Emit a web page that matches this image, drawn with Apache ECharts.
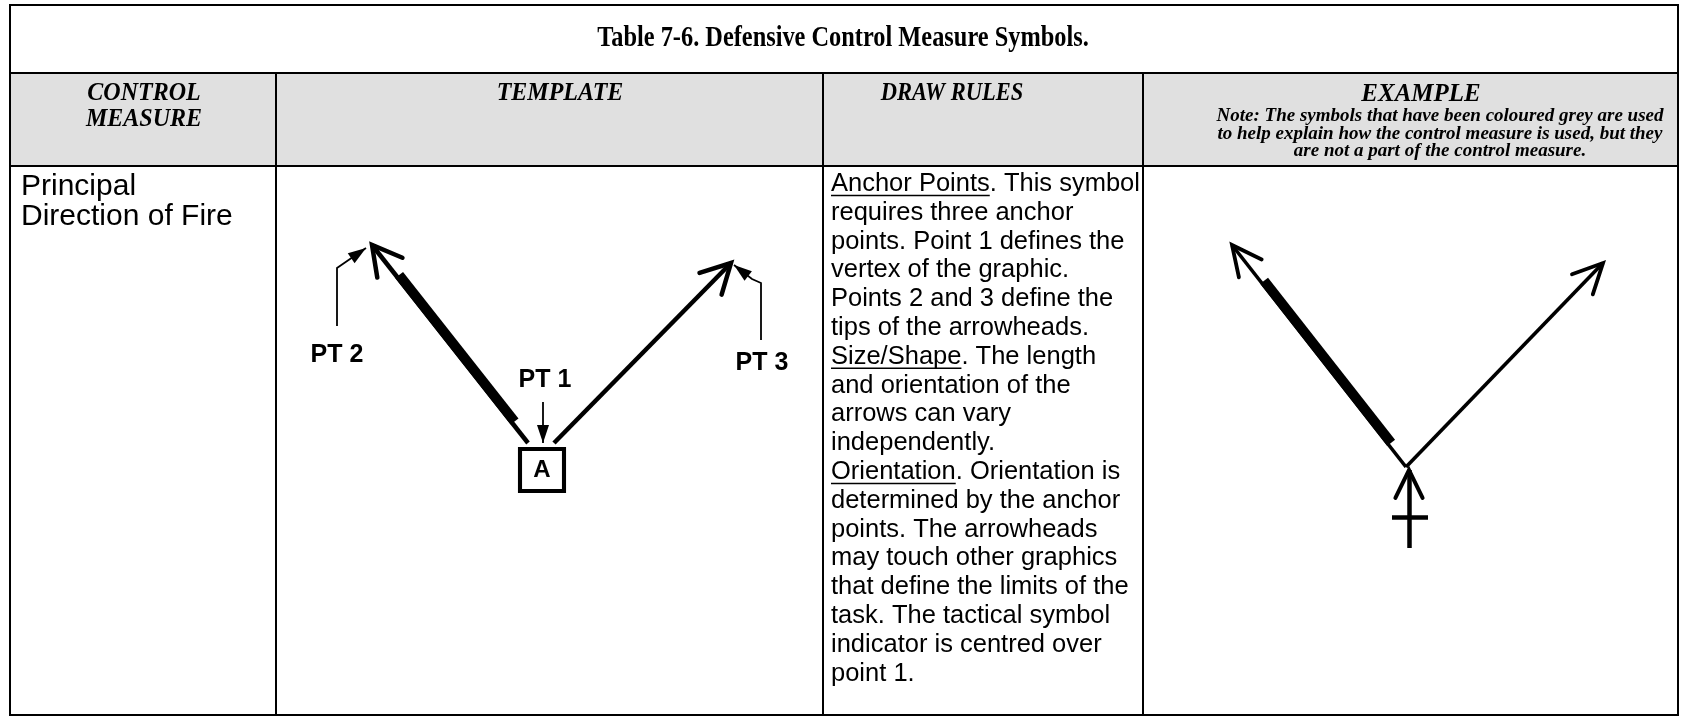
<!DOCTYPE html>
<html><head><meta charset="utf-8">
<script src="https://cdn.jsdelivr.net/npm/echarts@6/dist/echarts.min.js"></script>
<style>html,body{margin:0;padding:0;background:#fff}#c{width:1681px;height:717px}</style>
</head><body><div id="c"></div>
<script>
// ---------- text content ----------
const TITLE = 'Table 7-6. Defensive Control Measure Symbols.';
const HEADERS = ['CONTROL', 'MEASURE', 'TEMPLATE', 'DRAW RULES', 'EXAMPLE'];
const EXAMPLE_NOTE = [
  'Note: The symbols that have been coloured grey are used',
  'to help explain how the control measure is used, but they',
  'are not a part of the control measure.'
];
const MEASURE_NAME = ['Principal', 'Direction of Fire'];
const DRAW_RULES = [
  'Anchor Points. This symbol',
  'requires three anchor',
  'points. Point 1 defines the',
  'vertex of the graphic.',
  'Points 2 and 3 define the',
  'tips of the arrowheads.',
  'Size/Shape. The length',
  'and orientation of the',
  'arrows can vary',
  'independently.',
  'Orientation. Orientation is',
  'determined by the anchor',
  'points. The arrowheads',
  'may touch other graphics',
  'that define the limits of the',
  'task. The tactical symbol',
  'indicator is centred over',
  'point 1.'
];
const UNDERLINED = [[0, 'Anchor Points'], [6, 'Size/Shape'], [10, 'Orientation']];

// ---------- template symbol ----------
const TPL_LEFT = [[528, 443], [372, 245]];   // point 1 side -> PT 2 tip
const TPL_RIGHT = [[554, 443], [731, 263]];  // point 1 side -> PT 3 tip
const TPL_BAND = [0.10, 0.84];               // part of left arrow drawn thick
const TPL_BOX = [[542, 470, 'A']];
const TPL_LABELS = [[337, 355, 'PT 2'], [545, 380, 'PT 1'], [762, 363, 'PT 3']];
const TPL_POINTERS = [
  [[337, 326], [337, 268], [366, 248]],
  [[543, 402], [543, 443]],
  [[761, 340], [761, 283], [752, 279], [734, 265]]
];

// ---------- example symbol ----------
const EX_LEFT = [[1406, 467], [1232, 245]];
const EX_RIGHT = [[1406, 467], [1603, 263]];
const EX_BAND = [0.10, 0.83];
const EX_INDICATOR = [[1409, 548], [1409, 470]];
const EX_CROSSBAR = [[1392, 517], [1428, 517]];

// ---------- layout ----------
const T = {l: 10, t: 5, r: 1678, b: 715, titleB: 73, headB: 166, cols: [276, 823, 1143]};
const SERIF = '"Liberation Serif", "Times New Roman", serif';
const SANS = '"Liberation Sans", Arial, sans-serif';

function band(shaft, frac, w, thin) {
  const a = shaft[0], b = shaft[1];
  const dx = b[0] - a[0], dy = b[1] - a[1], len = Math.hypot(dx, dy);
  const n = [-dy / len, dx / len];
  const off = (w - thin) / 2;
  const p = t => [a[0] + dx * t + n[0] * off, a[1] + dy * t + n[1] * off];
  return [p(frac[0]), p(frac[1])];
}

const measureCtx = document.createElement('canvas').getContext('2d');
function textW(str, font) { measureCtx.font = font; return measureCtx.measureText(str).width; }

const graphics = [];
graphics.push({type: 'rect', z: 0, shape: {x: T.l, y: T.titleB, width: T.r - T.l, height: T.headB - T.titleB}, style: {fill: '#e0e0e0'}});
const lw = 2;
graphics.push({type: 'rect', z: 5, shape: {x: T.l, y: T.t, width: T.r - T.l, height: T.b - T.t}, style: {fill: null, stroke: '#000', lineWidth: lw}});
graphics.push({type: 'line', z: 5, shape: {x1: T.l, y1: T.titleB, x2: T.r, y2: T.titleB}, style: {stroke: '#000', lineWidth: lw}});
graphics.push({type: 'line', z: 5, shape: {x1: T.l, y1: T.headB, x2: T.r, y2: T.headB}, style: {stroke: '#000', lineWidth: lw}});
T.cols.forEach(x => graphics.push({type: 'line', z: 5, shape: {x1: x, y1: T.titleB, x2: x, y2: T.b}, style: {stroke: '#000', lineWidth: lw}}));

function txt(str, x, y, font, align, sx) {
  graphics.push({type: 'text', z: 6, x: x, y: y, scaleX: sx || 1, style: {text: str, font: font, fill: '#000', align: align || 'center', verticalAlign: 'middle', textAlign: align || 'center', textVerticalAlign: 'middle'}});
}
txt(TITLE, 843, 39, 'bold 29px ' + SERIF, 'center', 0.84);
const HF = 'italic bold 25px ' + SERIF;
txt(HEADERS[0], 144, 94, HF, 'center', 0.96);
txt(HEADERS[1], 144, 120, HF, 'center', 0.96);
txt(HEADERS[2], 560, 94, HF, 'center', 0.96);
txt(HEADERS[3], 952, 94, HF, 'center', 0.9);
txt(HEADERS[4], 1421, 94, 'italic bold 26px ' + SERIF, 'center', 0.96);
EXAMPLE_NOTE.forEach((s, i) => txt(s, 1440, 116 + i * 17.7, 'italic bold 19px ' + SERIF));
MEASURE_NAME.forEach((s, i) => txt(s, 21, 187 + i * 30, '30px ' + SANS, 'left'));
const RF = '25.5px ' + SANS;
const RX = 831, RY0 = 184, RDY = 28.8;
DRAW_RULES.forEach((s, i) => txt(s, RX, RY0 + i * RDY, RF, 'left'));
UNDERLINED.forEach(([i, s]) => {
  const w = textW(s, RF), y = RY0 + i * RDY + 11.5;
  graphics.push({type: 'line', z: 6, shape: {x1: RX, y1: y, x2: RX + w, y2: y}, style: {stroke: '#000', lineWidth: 1.6}});
});

// ---------- series ----------
const lineS = (data, width, extra) => Object.assign({
  type: 'lines', coordinateSystem: 'cartesian2d', silent: true, z: 3,
  data: data.map(c => ({coords: c})),
  lineStyle: {color: '#000', width: width, opacity: 1, curveness: 0, cap: 'butt'}
}, extra || {});

const openHeads = [
  [TPL_LEFT[1][0], TPL_LEFT[1][1], TPL_LEFT[0][0], TPL_LEFT[0][1], 33, 29, 4.5],
  [TPL_RIGHT[1][0], TPL_RIGHT[1][1], TPL_RIGHT[0][0], TPL_RIGHT[0][1], 33, 28, 4.5],
  [EX_LEFT[1][0], EX_LEFT[1][1], EX_LEFT[0][0], EX_LEFT[0][1], 33, 26, 3.8],
  [EX_RIGHT[1][0], EX_RIGHT[1][1], EX_RIGHT[0][0], EX_RIGHT[0][1], 33, 26, 3.8],
  [EX_INDICATOR[1][0], EX_INDICATOR[1][1], EX_INDICATOR[0][0], EX_INDICATOR[0][1], 31, 26, 4]
];
const filledHeads = TPL_POINTERS.map(p => {
  const tip = p[p.length - 1], prev = p[p.length - 2];
  return [tip[0], tip[1], prev[0], prev[1], 18, 6];
});

const option = {
  animation: false,
  grid: {left: 0, right: 0, top: 0, bottom: 0},
  xAxis: {type: 'value', min: 0, max: 1681, show: false},
  yAxis: {type: 'value', min: 0, max: 717, inverse: true, show: false},
  graphic: {elements: graphics},
  series: [
    lineS([TPL_LEFT, TPL_RIGHT], 4.5),
    lineS([EX_LEFT, EX_RIGHT], 3.6),
    lineS([band(TPL_LEFT, TPL_BAND, 10, 4.5)], 10),
    lineS([band(EX_LEFT, EX_BAND, 10, 3.6)], 10),
    lineS(TPL_POINTERS, 1.8, {polyline: true}),
    lineS([EX_INDICATOR, EX_CROSSBAR], 4.5),
    {
      type: 'custom', coordinateSystem: 'cartesian2d', silent: true, z: 4,
      data: openHeads, encode: {x: 0, y: 1},
      renderItem: function (params, api) {
        const tip = api.coord([api.value(0), api.value(1)]);
        const back = api.coord([api.value(2), api.value(3)]);
        const L = api.value(4), a = api.value(5) * Math.PI / 180, w = api.value(6);
        const ang = Math.atan2(back[1] - tip[1], back[0] - tip[0]);
        const p1 = [tip[0] + L * Math.cos(ang + a), tip[1] + L * Math.sin(ang + a)];
        const p2 = [tip[0] + L * Math.cos(ang - a), tip[1] + L * Math.sin(ang - a)];
        return {type: 'polyline', shape: {points: [p1, tip, p2]}, style: {stroke: '#000', lineWidth: w, fill: null, lineCap: 'round', lineJoin: 'miter', miterLimit: 10}};
      }
    },
    {
      type: 'custom', coordinateSystem: 'cartesian2d', silent: true, z: 4,
      data: filledHeads, encode: {x: 0, y: 1},
      renderItem: function (params, api) {
        const tip = api.coord([api.value(0), api.value(1)]);
        const back = api.coord([api.value(2), api.value(3)]);
        const L = api.value(4), hw = api.value(5);
        const ang = Math.atan2(back[1] - tip[1], back[0] - tip[0]);
        const c = [tip[0] + L * Math.cos(ang), tip[1] + L * Math.sin(ang)];
        const n = [-Math.sin(ang), Math.cos(ang)];
        return {type: 'polygon', shape: {points: [tip, [c[0] + n[0] * hw, c[1] + n[1] * hw], [c[0] - n[0] * hw, c[1] - n[1] * hw]]}, style: {fill: '#000'}};
      }
    },
    {
      type: 'scatter', silent: true, z: 5,
      data: TPL_BOX.map(d => ({value: [d[0], d[1]], name: d[2]})),
      symbol: 'rect', symbolSize: [44, 42],
      itemStyle: {color: '#fff', borderColor: '#000', borderWidth: 4, opacity: 1},
      label: {show: true, position: 'inside', formatter: '{b}', color: '#000', fontFamily: SANS, fontWeight: 'bold', fontSize: 24}
    },
    {
      type: 'scatter', silent: true, z: 5,
      data: TPL_LABELS.map(d => ({value: [d[0], d[1]], name: d[2]})),
      symbol: 'circle', symbolSize: 1,
      itemStyle: {color: 'rgba(0,0,0,0)', opacity: 1},
      label: {show: true, position: 'inside', formatter: '{b}', color: '#000', opacity: 1, fontFamily: SANS, fontWeight: 'bold', fontSize: 25}
    }
  ]
};
const chart = echarts.init(document.getElementById('c'), null, {renderer: 'canvas', width: 1681, height: 717});
chart.setOption(option);
</script>
</body></html>
